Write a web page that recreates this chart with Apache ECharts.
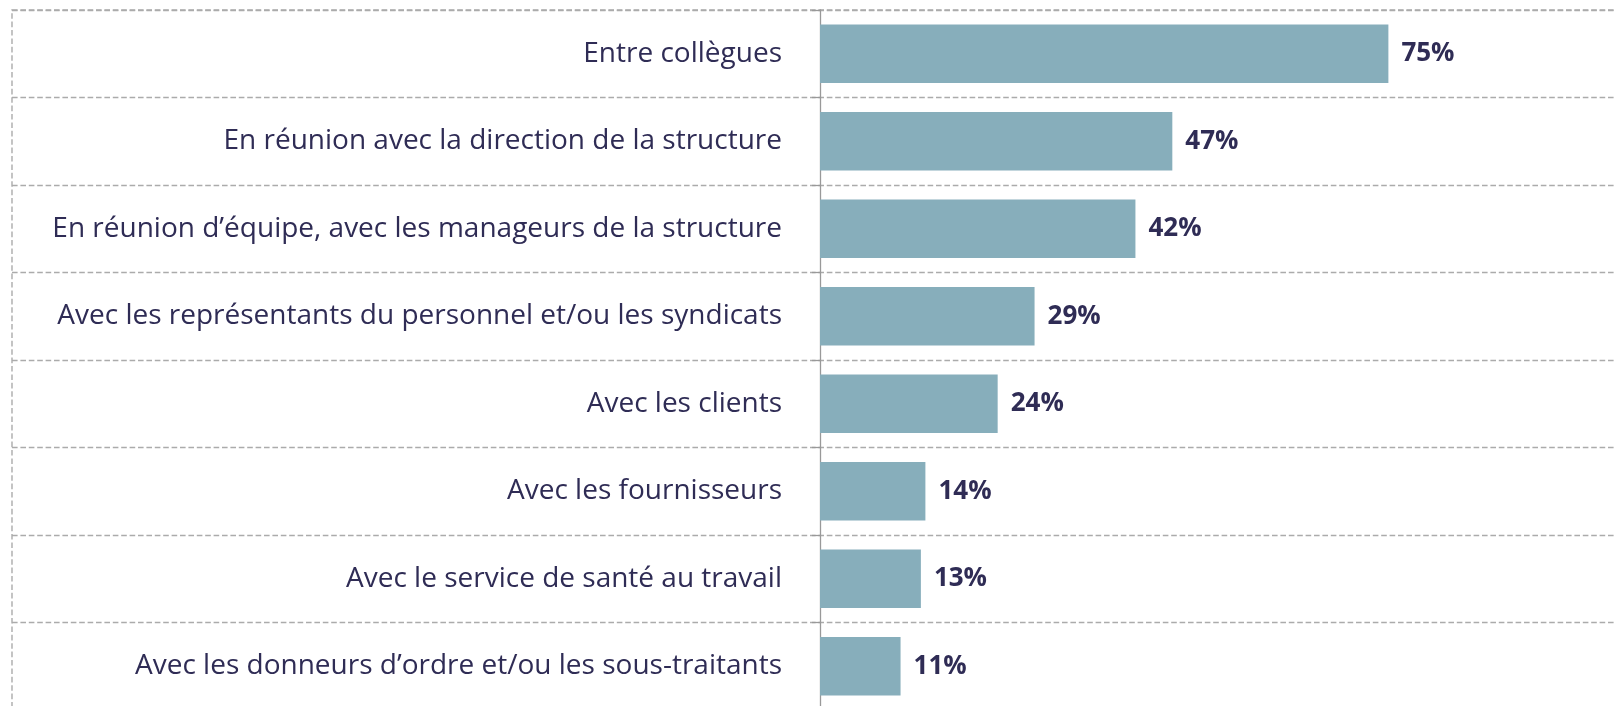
<!DOCTYPE html>
<html>
<head>
<meta charset="utf-8">
<script src="https://cdn.jsdelivr.net/npm/echarts@6/dist/echarts.min.js"></script>
<style>
html,body{margin:0;padding:0;background:#fff;}
#chart{width:1616px;height:706px;}
</style>
</head>
<body>
<div id="chart"></div>
<script>
const categories = [
  "Entre collègues",
  "En réunion avec la direction de la structure",
  "En réunion d’équipe, avec les manageurs de la structure",
  "Avec les représentants du personnel et/ou les syndicats",
  "Avec les clients",
  "Avec les fournisseurs",
  "Avec le service de santé au travail",
  "Avec les donneurs d’ordre et/ou les sous-traitants"
];
// bar lengths (percent)
const values = [75.5, 46.8, 41.9, 28.5, 23.6, 14.0, 13.4, 10.7];
// printed value labels
const valueLabels = ["75%", "47%", "42%", "29%", "24%", "14%", "13%", "11%"];

const textColor = "#2f2c55";
const dashColor = "#ababab";
const chart = echarts.init(document.getElementById('chart'), null, {renderer: 'canvas'});
chart.setOption({
  animation: false,
  backgroundColor: '#ffffff',
  grid: [
    { // background table: dashed frame and row separators
      show: true,
      left: 12, right: -2, top: 10, height: 700,
      borderColor: dashColor, borderWidth: 1.4, borderType: 'dashed',
      outerBoundsMode: 'none'
    },
    { // plot area
      left: 820, right: -2, top: 10, height: 700,
      outerBoundsMode: 'none'
    }
  ],
  xAxis: [
    {gridIndex: 0, type: 'value', min: 0, max: 1, show: false},
    {gridIndex: 1, type: 'value', min: 0, max: 106.0, show: false}
  ],
  yAxis: [
    {
      gridIndex: 0,
      type: 'category',
      inverse: true,
      data: categories,
      axisLine: {show: false},
      axisTick: {show: false},
      axisLabel: {show: false},
      splitLine: {show: true, lineStyle: {type: 'dashed', color: dashColor, width: 1.4}}
    },
    {
      gridIndex: 1,
      type: 'category',
      inverse: true,
      data: categories,
      axisLine: {show: true, lineStyle: {color: '#999999', width: 1.3}},
      axisTick: {show: true, length: 8, inside: false, lineStyle: {color: '#999999', width: 1.3}},
      axisLabel: {
        margin: 38,
        fontFamily: 'Open Sans',
        fontSize: 28,
        color: textColor
      },
      splitLine: {show: false}
    }
  ],
  series: [{
    type: 'bar',
    xAxisIndex: 1,
    yAxisIndex: 1,
    data: values,
    barCategoryGap: '33%',
    itemStyle: {color: '#87aebb'},
    label: {
      show: true,
      position: 'right',
      distance: 13,
      fontFamily: 'Open Sans',
      fontWeight: 'bold',
      fontSize: 26,
      color: textColor,
      formatter: p => valueLabels[p.dataIndex]
    }
  }]
});
</script>
</body>
</html>
